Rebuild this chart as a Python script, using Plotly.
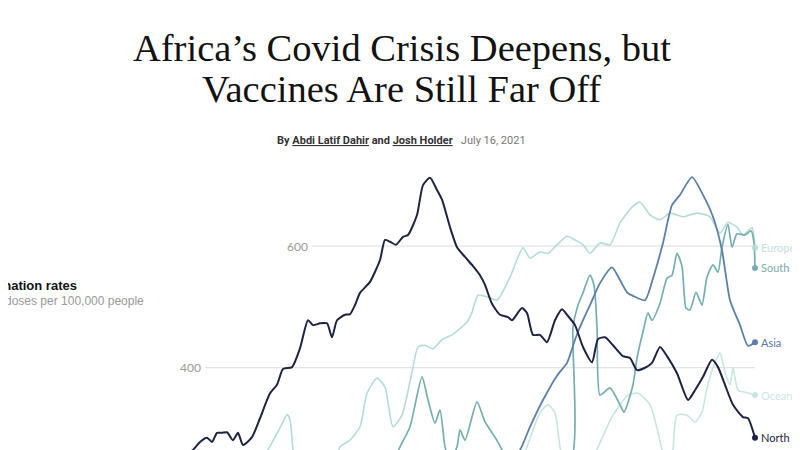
import pandas as pd
import plotly.graph_objects as go

# Days since 2020-12-01 and doses per 100,000 people
na_days = [82.25, 85.5, 87.25, 89, 90.25, 91.5, 92.75, 94, 95.5, 96.75, 98, 100.25, 102.25, 104.75, 106.5, 108,
           110.25, 112.25, 114.25, 115.5, 117.25, 119, 120.25, 121.5, 123.5, 124.75, 126, 127.25, 129.75, 132.25,
           133.5, 134.75, 136.25, 138, 139.25, 141.5, 143, 144.75, 146.5, 147.75, 149.75, 151.5, 153.5, 155.5,
           157.25, 158.5, 160.25, 162.25, 164.25, 165.25, 167.75, 169, 170.5, 172.25, 174, 176, 177.75, 179, 181,
           183, 185.25, 186.75, 188.5, 190.5, 193, 194.75, 196.5, 198.5, 200.25, 202.25, 204, 206.5, 209.25, 211,
           213, 215.25, 216.75, 218.5, 220.5, 223, 224.25, 226]
na_vals = [250, 265, 278, 285, 278, 293, 293, 294, 281, 293, 273, 286, 317, 358, 372, 398,
           401, 432, 478, 470, 473, 473, 450, 478, 487, 488, 503, 523, 541, 577,
           610, 607, 602, 615, 618, 651, 700, 712, 692, 676, 631, 598, 582, 567,
           552, 536, 505, 487, 483, 478, 498, 490, 454, 454, 442, 478, 496, 487, 470,
           434, 409, 447, 450, 437, 419, 416, 396, 400, 408, 434, 419, 391, 347, 363,
           385, 413, 401, 372, 339, 319, 317, 285]

eu_days = [102.75, 104.25, 107.25, 109, 109.75, 110.5, 111.25, 121, 122.25, 124.75, 127.25, 129, 131.5, 133.5,
           135.5, 137.75, 140.25, 141.75, 143.5, 145.5, 147.75, 150.25, 152.75, 154, 155.25, 156.75, 159.25,
           161.5, 164.75, 168, 169.75, 172.25, 174.25, 176.5, 179, 181, 183, 184.75, 187.25, 189.75, 192.25,
           195.25, 197.25, 199.75, 202.25, 204.75, 208, 211.5, 214.75, 217.25, 219.25, 221.5, 223, 225.25, 226]
eu_vals = [245, 265, 301, 323, 315, 265, 240, 240, 270, 281, 303, 358, 383, 368,
           303, 322, 393, 434, 437, 431, 446, 454, 467, 475, 491, 519, 516,
           511, 549, 597, 580, 590, 588, 602, 616, 610, 602, 588, 605, 602, 638,
           664, 672, 651, 643, 654, 648, 654, 648, 621, 639, 631, 618, 630, 597]

sa_days = [136, 137.25, 139.75, 142.75, 144.25, 146, 147.25, 148.5, 149.75, 151.5, 152.25, 153.5, 156.5, 158.5,
           161, 162.75, 164.25, 179.6, 180.5, 181.75, 183, 184.75, 185.75, 186.5, 187.25, 189.75, 192.25, 193.25,
           195.5, 196.5, 198, 199.25, 200.25, 202.25, 204, 205.25, 206.5, 207.75, 208.75, 209.75, 211.25, 212.75,
           214, 215.5, 216.75, 217.75, 219.25, 220.25, 221.5, 223.5, 225, 225.75, 226]
sa_vals = [250, 270, 303, 385, 347, 309, 331, 270, 245, 270, 298, 281, 344, 311,
           286, 265, 240, 240, 467, 503, 523, 552, 536, 467, 355, 367, 339, 327,
           372, 416, 459, 490, 478, 506, 547, 552, 588, 567, 498, 495, 524, 503,
           549, 569, 557, 598, 635, 598, 620, 618, 625, 605, 564]

as_days = [163.5, 167.25, 169.75, 173, 176.5, 179, 181, 182.25, 184.75, 187.25, 190.25, 192.25, 194, 195.5,
           198.5, 200.5, 203, 205.25, 207.25, 210.25, 213, 215.5, 217.75, 219.75, 222.25, 224.25, 226]
as_vals = [240, 265, 303, 347, 387, 408, 446, 467, 503, 539, 565, 544, 524, 518,
           511, 547, 605, 667, 684, 713, 684, 648, 593, 511, 470, 436, 442]

oc_days = [167.25, 169, 172.25, 174.25, 176, 177.25, 178.5, 185.25, 186.5, 190.5, 194.25, 196.75, 199.75, 201.75,
           202.75, 204, 205, 205.5, 206.5, 209, 211, 212.75, 214, 216, 217.25, 218.5, 219.75, 220.5, 221.75,
           223.5, 226]
oc_vals = [240, 270, 326, 339, 326, 270, 240, 240, 265, 322, 355, 358, 339, 294,
           265, 240, 240, 265, 322, 322, 311, 327, 367, 408, 424, 393, 372, 400, 363,
           360, 355]

series = [
    ("Europe", eu_days, eu_vals, "#b3dcd5", "#c3e2de", 1.6),
    ("Oceania", oc_days, oc_vals, "#c9e5e0", "#cfe6e3", 1.6),
    ("South America", sa_days, sa_vals, "#76adb0", "#7ba9ad", 1.7),
    ("Asia", as_days, as_vals, "#5b7fa6", "#5b7597", 1.8),
    ("North America", na_days, na_vals, "#1d2340", "#1d2438", 2.0),
]

grid_values = [600, 400]
grid_starts = [0.38, 0.24625]

base = pd.Timestamp("2020-12-01")

W, H = 800, 450


def px(v):
    return v / W


def py(v):
    return 1 - v / H


def to_dates(days):
    return base + pd.to_timedelta(pd.Series(days, dtype=float), unit="D")


fig = go.Figure()
for name, d, v, col, lcol, w in series:
    xs = to_dates(d)
    fig.add_trace(go.Scatter(x=xs, y=v, mode="lines", name=name,
                             line=dict(color=col, width=w, shape="spline", smoothing=0.6),
                             hoverinfo="skip"))
for name, d, v, col, lcol, w in series:
    xs = to_dates(d)
    fig.add_trace(go.Scatter(x=[xs.iloc[-1]], y=[v[-1]], mode="markers",
                             marker=dict(color=col, size=6), cliponaxis=False,
                             hoverinfo="skip", showlegend=False))
    fig.add_annotation(x=xs.iloc[-1], y=v[-1], text=name, showarrow=False,
                       xanchor="left", yanchor="middle", xshift=4,
                       font=dict(family="Lato", size=11, color=lcol))

for gv, gs in zip(grid_values, grid_starts):
    fig.add_shape(type="line", xref="paper", yref="y", x0=gs, x1=0.9337, y0=gv, y1=gv,
                  line=dict(color="#dcdcdc", width=1), layer="below")
    fig.add_annotation(xref="paper", yref="y", x=gs - 0.0025, y=gv, text=str(gv),
                       showarrow=False, xanchor="right", yanchor="middle",
                       font=dict(family="Lato", size=12, color="#999999"))

# Headline and byline
fig.add_annotation(xref="paper", yref="paper", x=px(394), y=py(40),
                   text="Africa’s Covid Crisis Deepens, but", showarrow=False,
                   xanchor="center", yanchor="middle",
                   font=dict(family="Liberation Serif", size=38.5, color="#121212"))
fig.add_annotation(xref="paper", yref="paper", x=px(393.5), y=py(81),
                   text="Vaccines Are Still Far Off", showarrow=False,
                   xanchor="center", yanchor="middle",
                   font=dict(family="Liberation Serif", size=38.5, color="#121212"))
fig.add_annotation(xref="paper", yref="paper", x=px(393.5), y=py(132),
                   text=("<b>By <span style='text-decoration:underline'>Abdi Latif Dahir</span> and "
                         "<span style='text-decoration:underline'>Josh Holder</span></b>"
                         "   <span style='color:#777777'>July 16, 2021</span>"),
                   showarrow=False, xanchor="center", yanchor="middle",
                   font=dict(family="Roboto", size=11, color="#333333"))

# Left-side chart heading (partly outside the window)
fig.add_annotation(xref="paper", yref="paper", x=px(71), y=py(277),
                   text="<b>Vaccination rates</b>", showarrow=False,
                   xanchor="right", yanchor="middle",
                   font=dict(family="Liberation Sans", size=13, color="#121212"))
fig.add_annotation(xref="paper", yref="paper", x=px(137.5), y=py(293),
                   text="Daily doses per 100,000 people", showarrow=False,
                   xanchor="right", yanchor="middle",
                   font=dict(family="Liberation Sans", size=12, color="#999999"))

fig.update_layout(
    width=W, height=H,
    margin=dict(l=0, r=0, t=0, b=0),
    paper_bgcolor="white", plot_bgcolor="white",
    showlegend=False,
    xaxis=dict(range=[base + pd.Timedelta(days=39.25), base + pd.Timedelta(days=239.25)],
               visible=False, fixedrange=True),
    yaxis=dict(range=[251.7, 991.0], visible=False, fixedrange=True),
)

fig.write_html("out.html", config={"displayModeBar": False})
